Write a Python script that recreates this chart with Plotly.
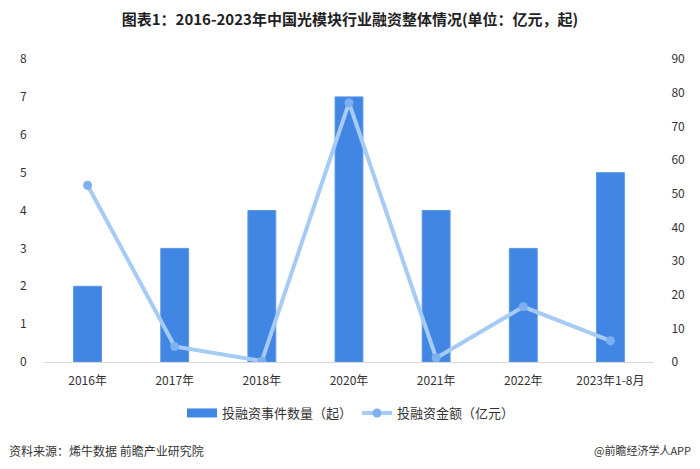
import plotly.graph_objects as go

categories = ["2016年", "2017年", "2018年", "2020年", "2021年", "2022年", "2023年1-8月"]
event_counts = [2, 3, 4, 7, 4, 3, 5]
amounts = [52.5, 4.6, 0.3, 77.0, 1.2, 16.4, 6.3]
left_ticks = [0, 1, 2, 3, 4, 5, 6, 7, 8]
right_ticks = [0, 10, 20, 30, 40, 50, 60, 70, 80, 90]

title_text = "图表1：2016-2023年中国光模块行业融资整体情况(单位：亿元，起)"
source_text = "资料来源：烯牛数据 前瞻产业研究院"
brand_text = "@前瞻经济学人APP"
bar_name = "投融资事件数量（起）"
line_name = "投融资金额（亿元）"

font_family = "Noto Sans CJK SC, Noto Sans, sans-serif"
bar_color = "#4086e2"

# The page body has an 8px margin, so the figure is sized to fit the window.
W, H = 692, 461
L, R, T, B = 34, 46, 51, 107
plot_w = W - L - R
plot_h = H - T - B

fig = go.Figure()
fig.add_trace(go.Bar(
    x=categories, y=event_counts, name=bar_name, showlegend=False,
    marker=dict(color=bar_color, line=dict(color="#5b98ea", width=1)),
    width=0.32, yaxis="y",
))
# legend entry for the bars drawn as a wide bar swatch
fig.add_trace(go.Scatter(
    x=[None], y=[None], name=bar_name, mode="lines",
    line=dict(color=bar_color, width=9), yaxis="y", hoverinfo="skip",
))
fig.add_trace(go.Scatter(
    x=categories, y=amounts, name=line_name,
    mode="lines+markers",
    line=dict(color="#a6cbf5", width=4),
    marker=dict(color="#7eb0ef", size=9),
    yaxis="y2",
))

fig.update_layout(
    width=W, height=H, autosize=False,
    margin=dict(l=L, r=R, t=T, b=B),
    paper_bgcolor="white", plot_bgcolor="white",
    font=dict(family=font_family, size=12, color="#333333"),
    title=dict(text="<b>" + title_text + "</b>", x=(350 - 8) / W, xanchor="center",
               y=1 - 12 / H, yanchor="middle",
               font=dict(family=font_family, size=15, color="#222222")),
    showlegend=True,
    legend=dict(orientation="h", x=(350 - 8 - L) / plot_w, xanchor="center",
                y=-(413 - 362) / plot_h, yanchor="middle",
                font=dict(size=13, color="#333333"), tracegroupgap=0),
    bargap=0.68,
    xaxis=dict(
        showgrid=False, showline=True, linecolor="#d9d9d9", linewidth=1,
        ticks="outside", ticklen=8, tickcolor="rgba(0,0,0,0)",
        tickfont=dict(size=12, color="#333333"),
    ),
    yaxis=dict(
        range=[0, 8], tickvals=left_ticks, showgrid=False, zeroline=False,
        showline=False, ticks="outside", ticklen=14, tickcolor="rgba(0,0,0,0)",
        tickfont=dict(size=12, color="#333333"),
    ),
    yaxis2=dict(
        range=[0, 90], tickvals=right_ticks, overlaying="y", side="right",
        showgrid=False, zeroline=False, showline=False,
        ticks="outside", ticklen=14, tickcolor="rgba(0,0,0,0)",
        tickfont=dict(size=12, color="#333333"),
    ),
)

y_footer = -(450 - 362) / plot_h
fig.add_annotation(text=source_text, x=(5 - 8 - L) / plot_w, y=y_footer,
                   xref="paper", yref="paper", showarrow=False,
                   xanchor="left", yanchor="middle",
                   font=dict(size=12, color="#333333"))
fig.add_annotation(text=brand_text, x=(693 - 8 - L) / plot_w, y=y_footer,
                   xref="paper", yref="paper", showarrow=False,
                   xanchor="right", yanchor="middle",
                   font=dict(size=11, color="#333333"))

fig.write_html("out.html")
